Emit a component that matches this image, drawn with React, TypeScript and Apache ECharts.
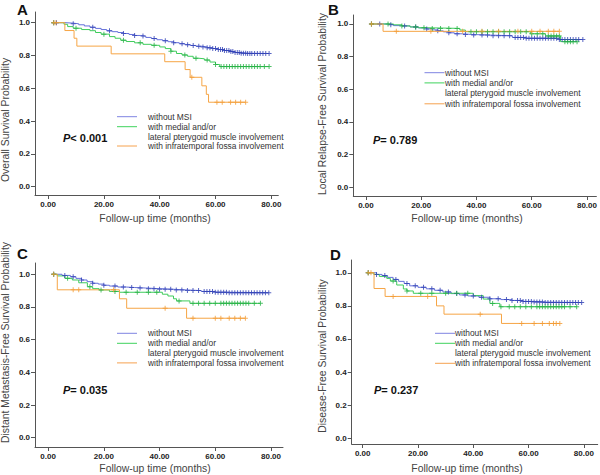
import React, { useEffect, useRef } from "react";
import * as echarts from "echarts";

// ---------- texts ----------
const panelLetters = ["A", "B", "C", "D"];
const yTitles = [
  "Overall Survival Probability",
  "Local Relapse-Free Survival Probability",
  "Distant Metastasis-Free Survival Probability",
  "Disease-Free Survival Probability",
];
const xTitle = "Follow-up time (months)";
const pValues = ["< 0.001", "= 0.789", "= 0.035", "= 0.237"];
const legendLabels = [
  "without MSI",
  "with medial and/or",
  "lateral pterygoid muscle involvement",
  "with infratemporal fossa involvement",
];
const xTicks = [0, 20, 40, 60, 80];
const yTicks = [0, 0.2, 0.4, 0.6, 0.8, 1.0];

// ---------- data: KM events [month, survival] and censor times ----------
// Panel A – overall survival
const aBlue = [[1.5, 1.0], [6, 0.997], [9, 0.993], [11, 0.987], [13, 0.98], [15, 0.972], [17, 0.965], [19, 0.958], [21, 0.95], [23, 0.945], [25, 0.94], [27, 0.934], [29, 0.928], [31, 0.922], [33, 0.918], [35, 0.91], [37, 0.903], [39, 0.896], [41, 0.89], [43, 0.884], [45, 0.878], [47, 0.872], [49, 0.866], [51, 0.861], [53, 0.856], [55, 0.852], [57, 0.847], [59, 0.842], [61, 0.836], [63, 0.83], [65, 0.824], [67, 0.818], [69, 0.814], [71, 0.812]];
const aBlueCens = [2, 3, 9, 16, 22, 27, 31, 34, 38, 42, 45, 48, 50, 52, 54, 55.5, 57, 58, 59, 60, 61, 61.8, 62.5, 63.2, 64, 64.8, 65.5, 66.2, 67, 67.8, 68.5, 69.2, 70, 70.8, 71.5, 72.3, 73, 74, 75, 76, 77, 78, 79.2];
const aGreen = [[1.5, 1.0], [5.7, 0.99], [7, 0.976], [9, 0.966], [12, 0.958], [15, 0.951], [17, 0.94], [19, 0.93], [22, 0.915], [24, 0.905], [26, 0.893], [28, 0.885], [31, 0.877], [34, 0.868], [37, 0.862], [40, 0.852], [42, 0.842], [44, 0.826], [46, 0.812], [48, 0.803], [50, 0.795], [52, 0.783], [54, 0.78], [56, 0.772], [58, 0.76], [60, 0.745], [61.5, 0.732]];
const aGreenCens = [2, 10, 20, 27, 33, 38, 44, 49, 53, 57, 60, 62, 63, 64, 65, 66, 67, 68, 69, 70, 71, 72, 73, 74, 75, 76, 77.5, 79.2];
const aOrange = [[1.5, 1.0], [6, 0.952], [9.3, 0.905], [10.3, 0.857], [22.6, 0.81], [41.8, 0.762], [49.1, 0.714], [50.9, 0.667], [55.1, 0.615], [56.7, 0.563], [57.5, 0.515]];
const aOrangeCens = [2, 2.8, 51.5, 60.5, 62.4, 65.4, 67.2, 69, 70.8];

// Panel B – local relapse-free survival
const bBlue = [[1.5, 1.0], [8, 0.996], [10, 0.99], [13, 0.988], [16, 0.982], [19, 0.976], [22, 0.97], [24, 0.964], [26, 0.958], [28, 0.952], [30, 0.946], [32, 0.94], [35, 0.936], [38, 0.932], [45, 0.928], [53, 0.918], [58, 0.912], [70, 0.905]];
const bBlueCens = [2, 5, 9, 14, 18, 22, 26, 30, 33, 36, 39, 42, 44, 46, 48, 50, 52, 54, 55, 56, 57, 58, 59, 60, 61, 62, 63, 64, 65, 66, 67, 68, 69, 70, 71, 72, 73, 74, 75, 76, 77, 78.5];
const bGreen = [[1.5, 1.0], [10, 0.995], [13, 0.988], [16, 0.982], [19, 0.977], [22, 0.973], [34, 0.963], [36, 0.953], [59.5, 0.94], [65, 0.927], [70.4, 0.892]];
const bGreenCens = [2, 8, 13, 18, 21, 24, 27, 30, 33, 38, 40, 42, 44, 46, 48, 50, 52, 54, 56, 58, 60, 62, 64, 66, 67, 68, 69, 70, 72, 73, 74, 75, 76.4];
const bOrange = [[1.5, 1.0], [6.2, 0.955]];
const bOrangeCens = [2, 11, 23.5, 35, 42, 48, 55, 60, 63, 66, 68, 70];

// Panel C – distant metastasis-free survival
const cBlue = [[1.5, 1.0], [5, 0.993], [8, 0.985], [10, 0.975], [12, 0.965], [14, 0.955], [16, 0.945], [18, 0.94], [20, 0.933], [22, 0.928], [25, 0.922], [28, 0.919], [31, 0.916], [35, 0.912], [40, 0.908], [45, 0.904], [50, 0.9], [55, 0.895], [60, 0.89], [65, 0.887]];
const cBlueCens = [2, 6, 9, 12, 16, 20, 24, 27, 30, 33, 36, 38, 40, 42, 44, 46, 48, 50, 52, 54, 56, 57, 58, 59, 60, 61, 62, 63, 64, 65, 66, 67, 68, 69, 70, 71, 72, 73, 74, 75, 76, 77, 78, 79.2];
const cGreen = [[1.5, 1.0], [3.3, 0.99], [6, 0.975], [8.7, 0.965], [11, 0.948], [14.1, 0.924], [16, 0.912], [18.3, 0.904], [22, 0.895], [25.6, 0.89], [41, 0.878], [43, 0.867], [45, 0.85], [46.1, 0.837], [50.9, 0.822]];
const cGreenCens = [2, 7, 15, 19, 24, 28, 32, 36, 39, 47, 52, 54, 56, 58, 60, 62, 63, 64, 65, 66, 67, 68, 69, 70, 71, 72, 74, 76.2];
const cOrange = [[1.5, 1.0], [3.3, 0.905], [25.6, 0.85], [28.2, 0.792], [49.7, 0.731]];
const cOrangeCens = [2, 9, 11, 23.5, 42, 52, 60, 62, 65, 67, 69, 70.8];

// Panel D – disease-free survival
const dBlue = [[1.5, 1.0], [5, 0.99], [7, 0.983], [9, 0.972], [11, 0.96], [13, 0.948], [15, 0.935], [17, 0.921], [20, 0.912], [23, 0.903], [26, 0.894], [29, 0.884], [32, 0.874], [35, 0.866], [38, 0.86], [42, 0.852], [46, 0.843], [50, 0.838], [54, 0.833], [58, 0.827], [62, 0.823], [66, 0.82]];
const dBlueCens = [2, 5, 8, 12, 16, 19, 22, 25, 28, 31, 34, 37, 40, 43, 46, 49, 52, 54, 56, 57, 58, 59, 60, 61, 62, 63, 64, 65, 66, 67, 68, 69, 70, 71, 72, 73, 74, 75, 76, 77, 78, 79.2];
const dGreen = [[1.5, 1.0], [4, 0.99], [6, 0.978], [8.7, 0.966], [10, 0.95], [12.3, 0.926], [14.7, 0.902], [16, 0.89], [18.3, 0.876], [40, 0.862], [43.6, 0.841], [46, 0.815], [49.6, 0.795]];
const dGreenCens = [2, 11, 16, 21, 25, 30, 34, 38, 47, 50, 53, 55, 57, 59, 61, 63, 64, 65, 66, 67, 68, 69, 70, 71, 72, 73, 75, 77.4];
const dOrange = [[1.5, 1.0], [4.1, 0.905], [8.1, 0.857], [26.7, 0.8], [29.4, 0.75], [50.2, 0.694]];
const dOrangeCens = [2, 3, 11, 23.5, 42.5, 57.5, 62, 65, 67.5, 69, 70, 71.3];

const panelData = [
  [[aBlue, aBlueCens], [aGreen, aGreenCens], [aOrange, aOrangeCens]],
  [[bBlue, bBlueCens], [bGreen, bGreenCens], [bOrange, bOrangeCens]],
  [[cBlue, cBlueCens], [cGreen, cGreenCens], [cOrange, cOrangeCens]],
  [[dBlue, dBlueCens], [dGreen, dGreenCens], [dOrange, dOrangeCens]],
];

// ---------- styles / layout ----------
const lineColors = ["#6470da", "#3fcc5c", "#f6a545"];
const markColors = ["#2f40b4", "#24b044", "#f39b33"];
const legendColors = ["#7f84e2", "#3fd35d", "#f6a24f"];
const FONT = "'Liberation Sans', Arial, Helvetica, sans-serif";

const layout = [
  { grid: { left: 35, top: 12, width: 243.3, height: 183 }, x: [-4.7, 82.5], y: [-0.0506, 1.065], letter: [17, 2], yTitle: [5, 120], xTitle: [155, 218.5], p: [63, 138], legend: { lx: 117, tx: 148, rows: [116.7, 126.7, 136.5, 146] } },
  { grid: { left: 353.3, top: 15, width: 244.4, height: 181 }, x: [-4.57, 83.4], y: [-0.053, 1.055], letter: [328, 2], yTitle: [322, 104], xTitle: [467, 218.5], p: [373, 140], legend: { lx: 424.5, tx: 445, rows: [72.7, 82.9, 93.3, 103.8] } },
  { grid: { left: 35, top: 263, width: 248, height: 184 }, x: [-4.7, 84.3], y: [-0.057, 1.069], letter: [17, 246], yTitle: [5, 342.5], xTitle: [155, 468], p: [63, 390], legend: { lx: 117, tx: 148, rows: [333.3, 343.3, 353.3, 362.9] } },
  { grid: { left: 351.7, top: 260, width: 246, height: 184 }, x: [-3.98, 85], y: [-0.034, 1.077], letter: [330, 247], yTitle: [322, 356], xTitle: [467, 468], p: [374, 390], legend: { lx: 435, tx: 455, rows: [333.3, 343.3, 353.3, 363.3] } },
];

const crossSymbol = "path://M2,0h1v2h2v1h-2v2h-1v-2h-2v-1h2z";

function survAt(events: number[][], t: number) {
  let s = 1;
  for (const [et, es] of events) if (et <= t) s = es;
  return s;
}

export default function App() {
  const ref = useRef<HTMLDivElement>(null);
  useEffect(() => {
    if (!ref.current) return;
    const chart = echarts.init(ref.current, null, { renderer: "svg" });

    const grids: any[] = [];
    const xAxes: any[] = [];
    const yAxes: any[] = [];
    const series: any[] = [];
    const graphics: any[] = [];

    layout.forEach((L, i) => {
      grids.push({ ...L.grid });
      const axisCommon = {
        splitLine: { show: false },
        axisLine: { show: true, onZero: false, lineStyle: { color: "#555", width: 1 } },
      };
      xAxes.push({
        ...axisCommon,
        type: "value",
        gridIndex: i,
        min: L.x[0],
        max: L.x[1],
        axisTick: { show: true, inside: false, length: 4, customValues: xTicks, lineStyle: { color: "#555" } },
        axisLabel: {
          customValues: xTicks,
          formatter: (v: number) => v.toFixed(2),
          fontSize: 8,
          fontWeight: "bold",
          color: "#222",
          fontFamily: FONT,
          margin: 5,
        },
      });
      yAxes.push({
        ...axisCommon,
        type: "value",
        gridIndex: i,
        min: L.y[0],
        max: L.y[1],
        axisTick: { show: true, inside: false, length: 4, customValues: yTicks, lineStyle: { color: "#555" } },
        axisLabel: {
          customValues: yTicks,
          formatter: (v: number) => v.toFixed(1),
          fontSize: 8,
          fontWeight: "bold",
          color: "#222",
          fontFamily: FONT,
          margin: 5,
        },
      });

      panelData[i].forEach(([events, cens], g) => {
        const lastT = Math.max(...(cens as number[]));
        const evs = events as number[][];
        const lineData = evs.map((e) => [e[0], e[1]]);
        lineData.push([lastT, evs[evs.length - 1][1]]);
        series.push({
          type: "line",
          xAxisIndex: i,
          yAxisIndex: i,
          step: "end",
          showSymbol: false,
          data: lineData,
          lineStyle: { color: lineColors[g], width: 1 },
          z: 2 + g,
          silent: true,
        });
        series.push({
          type: "scatter",
          xAxisIndex: i,
          yAxisIndex: i,
          symbol: crossSymbol,
          symbolSize: 5,
          data: (cens as number[]).map((t) => [t, survAt(evs, t)]),
          itemStyle: { color: markColors[g] },
          z: 3 + g,
          silent: true,
        });
      });

      graphics.push({
        type: "text",
        x: L.letter[0],
        y: L.letter[1],
        style: { text: panelLetters[i], fontSize: 15, fontWeight: "bold", fill: "#111", fontFamily: FONT },
      });
      graphics.push({
        type: "text",
        x: L.yTitle[0],
        y: L.yTitle[1],
        rotation: Math.PI / 2,
        style: { text: yTitles[i], fontSize: 10.4, fill: "#444", fontFamily: FONT, align: "center", verticalAlign: "middle" },
      });
      graphics.push({
        type: "text",
        x: L.xTitle[0],
        y: L.xTitle[1],
        style: { text: xTitle, fontSize: 10.4, fill: "#444", fontFamily: FONT, align: "center", verticalAlign: "middle" },
      });
      graphics.push({
        type: "text",
        x: L.p[0],
        y: L.p[1],
        style: {
          text: "{i|P}{b|" + pValues[i] + "}",
          verticalAlign: "middle",
          rich: {
            i: { fontStyle: "italic", fontWeight: "bold", fontSize: 11, fill: "#111", fontFamily: FONT },
            b: { fontWeight: "bold", fontSize: 11, fill: "#111", fontFamily: FONT },
          },
        },
      });
      const lg = L.legend;
      const lineRows = [lg.rows[0], lg.rows[1], lg.rows[3]];
      lineRows.forEach((ry, g) => {
        graphics.push({
          type: "line",
          shape: { x1: lg.lx, y1: ry, x2: lg.lx + 20, y2: ry },
          style: { stroke: legendColors[g], lineWidth: 1 },
        });
      });
      legendLabels.forEach((txt, r) => {
        graphics.push({
          type: "text",
          x: lg.tx,
          y: lg.rows[r],
          style: { text: txt, fontSize: 8.4, fill: "#333", fontFamily: FONT, verticalAlign: "middle" },
        });
      });
    });

    chart.setOption({
      animation: false,
      backgroundColor: "#fff",
      grid: grids,
      xAxis: xAxes,
      yAxis: yAxes,
      series,
      graphic: graphics,
    });
    return () => chart.dispose();
  }, []);
  return (
    <div
      ref={ref}
      style={{ position: "fixed", left: 0, top: 0, width: 600, height: 475, background: "#fff" }}
    />
  );
}
